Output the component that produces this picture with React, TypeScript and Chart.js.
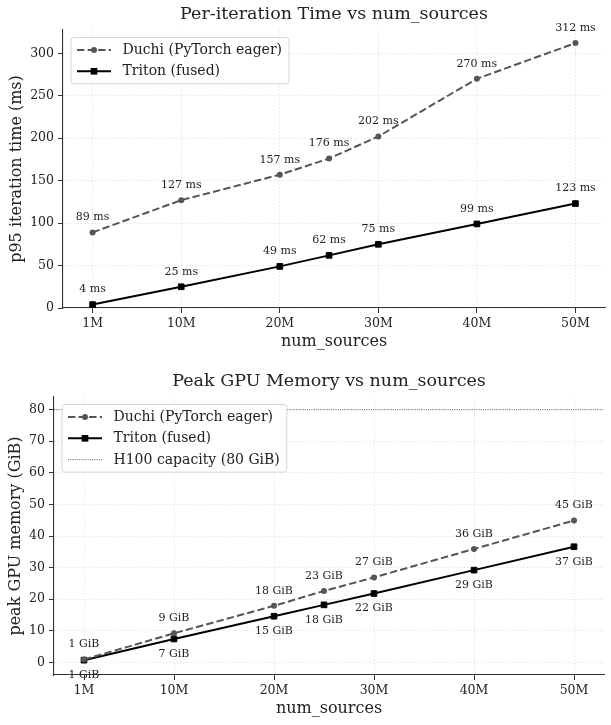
import React, { useEffect, useRef } from "react";
import { Chart, registerables } from "chart.js";

Chart.register(...registerables);

// num_sources in millions, and the x ticks shown
const NUM_SOURCES_M = [1, 10, 20, 25, 30, 40, 50];
const X_TICKS_M = [1, 10, 20, 30, 40, 50];
const X_MIN = -2;
const X_MAX = 53;

// p95 iteration time (ms)
const DUCHI_TIME_MS = [89, 127, 157, 176, 202, 270, 312];
const TRITON_TIME_MS = [4, 25, 49, 62, 75, 99, 123];

// peak GPU memory (GiB)
const DUCHI_MEM_GIB = [0.9, 9.2, 17.9, 22.6, 26.9, 35.9, 44.9];
const TRITON_MEM_GIB = [0.7, 7.4, 14.6, 18.2, 21.8, 29.2, 36.6];
const H100_CAPACITY_GIB = 80;

const FONT = "'DejaVu Serif', 'Liberation Serif', serif";
const INK = "#222222";
const AXIS = "#333333";
const GRID = "rgba(0,0,0,0.13)";
const DUCHI_COLOR = "#555555";
const TRITON_COLOR = "#000000";

const DUCHI_LABEL = "Duchi (PyTorch eager)";
const TRITON_LABEL = "Triton (fused)";
const H100_LABEL = "H100 capacity (80 GiB)";

function series(values: number[]) {
  return NUM_SOURCES_M.map((x, i) => ({ x, y: values[i] }));
}

function duchiDataset(values: number[], unit: string) {
  return {
    label: DUCHI_LABEL,
    data: series(values),
    borderColor: DUCHI_COLOR,
    backgroundColor: DUCHI_COLOR,
    borderWidth: 2,
    borderDash: [7.4, 3.2],
    pointStyle: "circle",
    pointRadius: 3,
    pointBorderWidth: 0,
    pointBackgroundColor: DUCHI_COLOR,
    valueUnit: unit,
    valueSide: "above",
  };
}

function tritonDataset(values: number[], unit: string, side: string) {
  return {
    label: TRITON_LABEL,
    data: series(values),
    borderColor: TRITON_COLOR,
    backgroundColor: TRITON_COLOR,
    borderWidth: 2,
    pointStyle: "rect",
    pointRadius: 4,
    pointBorderWidth: 1,
    pointBackgroundColor: TRITON_COLOR,
    pointBorderColor: TRITON_COLOR,
    valueUnit: unit,
    valueSide: side,
  };
}

// Annotates every point of a dataset with its rounded value
const valueLabels = {
  id: "valueLabels",
  afterDatasetsDraw(chart: any) {
    const ctx = chart.ctx;
    ctx.save();
    ctx.font = `11px ${FONT}`;
    ctx.fillStyle = INK;
    ctx.textAlign = "center";
    ctx.textBaseline = "middle";
    chart.data.datasets.forEach((ds: any, i: number) => {
      if (!ds.valueUnit) return;
      const meta = chart.getDatasetMeta(i);
      meta.data.forEach((pt: any, j: number) => {
        const v = ds.data[j].y;
        const text = `${Math.round(v)} ${ds.valueUnit}`;
        const y = ds.valueSide === "below" ? pt.y + 15 : pt.y - 15;
        ctx.fillText(text, pt.x, y);
      });
    });
    ctx.restore();
  },
};

// Framed legend drawn inside the upper-left corner of the plot area
const framedLegend = {
  id: "framedLegend",
  afterDraw(chart: any) {
    const ctx = chart.ctx;
    const area = chart.chartArea;
    const items = chart.data.datasets;
    const x0 = area.left + 8;
    const y0 = area.top + 7.5;
    const rowGap = 21.3;
    const firstRow = 12.5;
    ctx.save();
    ctx.font = `14px ${FONT}`;
    let maxW = 0;
    items.forEach((ds: any) => {
      maxW = Math.max(maxW, ctx.measureText(ds.label).width);
    });
    const w = 51.5 + maxW + 7;
    const h = firstRow * 2 + rowGap * (items.length - 1);
    // frame
    const r = 3;
    ctx.beginPath();
    ctx.moveTo(x0 + r, y0);
    ctx.lineTo(x0 + w - r, y0);
    ctx.arcTo(x0 + w, y0, x0 + w, y0 + r, r);
    ctx.lineTo(x0 + w, y0 + h - r);
    ctx.arcTo(x0 + w, y0 + h, x0 + w - r, y0 + h, r);
    ctx.lineTo(x0 + r, y0 + h);
    ctx.arcTo(x0, y0 + h, x0, y0 + h - r, r);
    ctx.lineTo(x0, y0 + r);
    ctx.arcTo(x0, y0, x0 + r, y0, r);
    ctx.closePath();
    ctx.fillStyle = "rgba(255,255,255,0.95)";
    ctx.fill();
    ctx.strokeStyle = "#d6d6d6";
    ctx.lineWidth = 1;
    ctx.stroke();

    items.forEach((ds: any, i: number) => {
      const cy = y0 + firstRow + i * rowGap;
      const hx1 = x0 + 6;
      const hx2 = x0 + 40;
      ctx.save();
      ctx.strokeStyle = ds.borderColor;
      ctx.lineWidth = ds.borderWidth;
      ctx.setLineDash(ds.borderDash || []);
      ctx.beginPath();
      ctx.moveTo(hx1, cy);
      ctx.lineTo(hx2, cy);
      ctx.stroke();
      ctx.restore();
      const mx = (hx1 + hx2) / 2;
      if (ds.pointRadius > 0) {
        ctx.fillStyle = ds.pointBackgroundColor;
        if (ds.pointStyle === "rect") {
          const s = ds.pointRadius * Math.SQRT1_2 + 0.5;
          ctx.fillRect(mx - s, cy - s, 2 * s, 2 * s);
        } else {
          ctx.beginPath();
          ctx.arc(mx, cy, ds.pointRadius, 0, Math.PI * 2);
          ctx.fill();
        }
      }
      ctx.fillStyle = INK;
      ctx.textAlign = "left";
      ctx.textBaseline = "middle";
      ctx.fillText(ds.label, x0 + 51.5, cy + 0.5);
    });
    ctx.restore();
  },
};

type Panel = {
  title: string;
  yTitle: string;
  yMin: number;
  yMax: number;
  yStep: number;
  yScaleWidth: number;
  rightPad: number;
  titlePad: { top: number; bottom: number };
  xScaleHeight: number;
  xTitlePadBottom: number;
  yTitlePadTop: number;
  datasets: any[];
};

function buildConfig(p: Panel): any {
  const grid = {
    color: GRID,
    lineWidth: 0.8,
    drawTicks: true,
    tickLength: 5,
    tickColor: AXIS,
    tickWidth: 1,
    tickBorderDash: [],
  };
  const border = { display: true, color: AXIS, width: 1.1, dash: [1.5, 2] };
  return {
    type: "line",
    data: { datasets: p.datasets },
    plugins: [valueLabels, framedLegend],
    options: {
      animation: false,
      responsive: false,
      devicePixelRatio: 1,
      parsing: true,
      layout: { padding: { left: 0, right: p.rightPad, top: 0, bottom: 0 } },
      plugins: {
        legend: { display: false },
        tooltip: { enabled: false },
        title: {
          display: true,
          text: p.title,
          fullSize: false,
          color: INK,
          font: { family: FONT, size: 17.5, weight: "normal" },
          padding: p.titlePad,
        },
      },
      scales: {
        x: {
          type: "linear",
          min: X_MIN,
          max: X_MAX,
          afterBuildTicks: (s: any) => {
            s.ticks = X_TICKS_M.map((v) => ({ value: v }));
          },
          afterFit: (s: any) => {
            s.height = p.xScaleHeight;
          },
          ticks: {
            callback: (v: any) => `${v}M`,
            color: INK,
            font: { family: FONT, size: 12.5 },
            padding: 3,
            maxRotation: 0,
            autoSkip: false,
          },
          grid,
          border,
          title: {
            display: true,
            text: "num_sources",
            color: INK,
            font: { family: FONT, size: 16 },
            padding: { top: 0, bottom: p.xTitlePadBottom },
          },
        },
        y: {
          type: "linear",
          min: p.yMin,
          max: p.yMax,
          afterFit: (s: any) => {
            s.width = p.yScaleWidth;
          },
          ticks: {
            stepSize: p.yStep,
            includeBounds: false,
            color: INK,
            font: { family: FONT, size: 12.5 },
            padding: 4,
          },
          grid,
          border,
          title: {
            display: true,
            text: p.yTitle,
            color: INK,
            font: { family: FONT, size: 16 },
            padding: { top: p.yTitlePadTop, bottom: 0 },
          },
        },
      },
    },
  };
}

const timePanel: Panel = {
  title: "Per-iteration Time vs num_sources",
  yTitle: "p95 iteration time (ms)",
  yMin: 0,
  yMax: 327.4,
  yStep: 50,
  yScaleWidth: 63,
  rightPad: 6,
  titlePad: { top: 3.5, bottom: 5.5 },
  xScaleHeight: 54,
  xTitlePadBottom: 10.4,
  yTitlePadTop: 7.4,
  datasets: [
    duchiDataset(DUCHI_TIME_MS, "ms"),
    tritonDataset(TRITON_TIME_MS, "ms", "above"),
  ],
};

const memoryPanel: Panel = {
  title: "Peak GPU Memory vs num_sources",
  yTitle: "peak GPU memory (GiB)",
  yMin: -4,
  yMax: 84,
  yStep: 10,
  yScaleWidth: 54,
  rightPad: 7,
  titlePad: { top: 8.5, bottom: 5.5 },
  xScaleHeight: 50,
  xTitlePadBottom: 6.4,
  yTitlePadTop: 6.4,
  datasets: [
    duchiDataset(DUCHI_MEM_GIB, "GiB"),
    tritonDataset(TRITON_MEM_GIB, "GiB", "below"),
    {
      label: H100_LABEL,
      data: [
        { x: X_MIN, y: H100_CAPACITY_GIB },
        { x: X_MAX, y: H100_CAPACITY_GIB },
      ],
      borderColor: "#666666",
      backgroundColor: "#666666",
      borderWidth: 1,
      borderDash: [1, 1.2],
      pointRadius: 0,
    },
  ],
};

function PanelChart({ panel, width, height }: { panel: Panel; width: number; height: number }) {
  const ref = useRef<HTMLCanvasElement | null>(null);
  useEffect(() => {
    if (!ref.current) return;
    const chart = new Chart(ref.current, buildConfig(panel));
    return () => chart.destroy();
  }, [panel]);
  return (
    <canvas
      ref={ref}
      width={width}
      height={height}
      style={{ display: "block", width, height }}
    />
  );
}

export default function App() {
  return (
    <div
      style={{
        position: "absolute",
        left: 0,
        top: 0,
        width: 611,
        height: 725,
        background: "#ffffff",
      }}
    >
      <PanelChart panel={timePanel} width={611} height={362} />
      <PanelChart panel={memoryPanel} width={611} height={363} />
    </div>
  );
}
